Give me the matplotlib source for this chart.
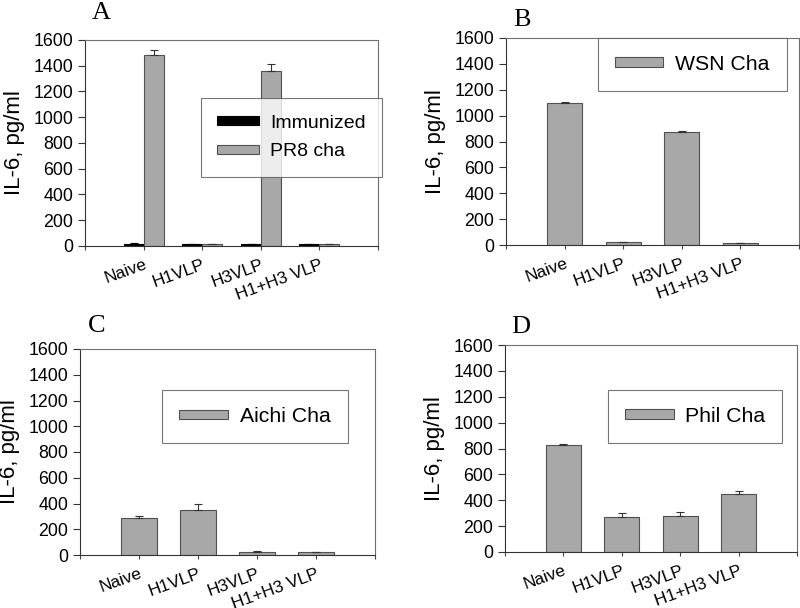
import matplotlib
matplotlib.use("Agg")
import matplotlib.pyplot as plt
import numpy as np

plt.rcParams['font.family'] = ['Liberation Sans', 'DejaVu Sans']

categories = ["Naive", "H1VLP", "H3VLP", "H1+H3 VLP"]

# Panel A
a_immunized = [15, 15, 15, 12]
a_immunized_err = [5, 4, 4, 3]
a_pr8 = [1480, 14, 1360, 12]
a_pr8_err = [40, 3, 50, 3]
# Panel B
b_wsn = [1095, 20, 870, 15]
b_wsn_err = [10, 3, 8, 3]
# Panel C
c_aichi = [285, 350, 25, 20]
c_aichi_err = [20, 50, 4, 3]
# Panel D
d_phil = [828, 272, 280, 445]
d_phil_err = [6, 28, 28, 28]

grey = '#a8a8a8'
edge = '#505050'
spine_grey = '#707070'


def style_axes(ax):
    x = np.arange(1, len(categories) + 1)
    ax.set_xlim(0, len(categories) + 1)
    ax.set_ylim(0, 1600)
    ax.set_yticks(np.arange(0, 1601, 200))
    ax.set_xticks(np.arange(0, len(categories) + 2))
    ax.set_xticklabels([''] + categories + [''], rotation=20, ha='right',
                       va='top', rotation_mode='anchor', fontsize=12.4)
    ax.tick_params(axis='y', direction='out', length=5, width=0.8, pad=3.5,
                   labelsize=12.8, colors='#333333', labelcolor='black')
    ax.tick_params(axis='x', direction='out', length=3, width=0.8, pad=5,
                   colors='#444444', labelcolor='black')
    for s in ['top', 'right']:
        ax.spines[s].set_color(spine_grey)
        ax.spines[s].set_linewidth(0.8)
    for s in ['left', 'bottom']:
        ax.spines[s].set_color('#333333')
        ax.spines[s].set_linewidth(0.8)
    ax.set_ylabel("IL-6, pg/ml", fontsize=16, labelpad=6)
    return x


def single_panel(ax, vals, errs, label, leg_center, letter, letter_xy, fig):
    x = style_axes(ax)
    ax.bar(x, vals, width=0.6, color=grey, edgecolor=edge, linewidth=0.8,
           label=label, zorder=2)
    ax.errorbar(x, vals, yerr=[np.zeros(len(vals)), errs], fmt='none',
                ecolor='#333333', elinewidth=0.8, capsize=3, capthick=0.8,
                zorder=3)
    leg = ax.legend(loc='center', bbox_to_anchor=leg_center, fontsize=15.3,
                    frameon=True, fancybox=False, handlelength=2.3,
                    handleheight=0.3, handletextpad=0.55, borderpad=0.8)
    leg.get_frame().set_edgecolor('#555555')
    leg.get_frame().set_linewidth(0.8)
    fig.text(letter_xy[0], letter_xy[1], letter, fontsize=19,
             family=['Liberation Serif', 'DejaVu Serif'], ha='center',
             va='center')


fig = plt.figure(figsize=(8, 6.08), dpi=100)

# Panel A
axA = fig.add_axes([85 / 800, 1 - 246 / 608, 293 / 800, 206 / 608])
x = style_axes(axA)
w = 0.34
axA.bar(x - w / 2, a_immunized, width=w, color='black', edgecolor='black',
        linewidth=0.8, label='Immunized', zorder=2)
axA.bar(x + w / 2, a_pr8, width=w, color=grey, edgecolor=edge,
        linewidth=0.8, label='PR8 cha', zorder=2)
axA.errorbar(x - w / 2, a_immunized,
             yerr=[np.zeros(4), a_immunized_err], fmt='none',
             ecolor='black', elinewidth=0.8, capsize=3, capthick=0.8, zorder=3)
axA.errorbar(x + w / 2, a_pr8, yerr=[np.zeros(4), a_pr8_err], fmt='none',
             ecolor='#333333', elinewidth=0.8, capsize=3, capthick=0.8, zorder=3)
legA = axA.legend(loc='center', bbox_to_anchor=(0.705, 0.527), fontsize=14,
                  frameon=True, fancybox=False, handlelength=2.15,
                  handleheight=0.3, handletextpad=0.57, borderpad=0.85,
                  labelspacing=0.6)
legA.get_frame().set_edgecolor('#555555')
legA.get_frame().set_linewidth(0.8)
fig.text(101 / 800, 1 - 13 / 608, 'A', fontsize=19,
         family=['Liberation Serif', 'DejaVu Serif'], ha='center', va='center')

# Panel B
axB = fig.add_axes([506 / 800, 1 - 245 / 608, 293 / 800, 207 / 608])
single_panel(axB, b_wsn, b_wsn_err, 'WSN Cha', (0.635, 0.874), 'B',
             (522 / 800, 1 - 20 / 608), fig)

# Panel C
axC = fig.add_axes([80 / 800, 1 - 555 / 608, 295 / 800, 206 / 608])
single_panel(axC, c_aichi, c_aichi_err, 'Aichi Cha', (0.593, 0.672), 'C',
             (97 / 800, 1 - 326 / 608), fig)

# Panel D
axD = fig.add_axes([505 / 800, 1 - 552 / 608, 292 / 800, 207 / 608])
single_panel(axD, d_phil, d_phil_err, 'Phil Cha', (0.651, 0.657), 'D',
             (521 / 800, 1 - 327 / 608), fig)

fig.savefig('out.png', dpi=100)
